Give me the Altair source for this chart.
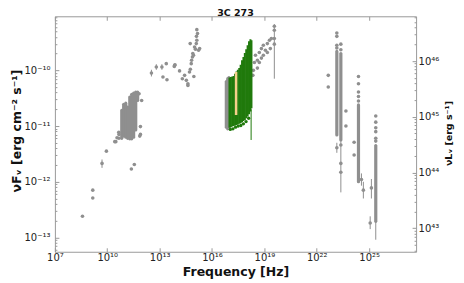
import math
import altair as alt
import pandas as pd

# ---------------- data (log10 values) ----------------
# grey scatter points: log10(nu/Hz), log10(nuFnu / erg cm^-2 s^-1)
grey_lognu = [8.58, 9.17, 9.17, 9.70, 9.95, 10.43, 10.49, 10.56, 10.67, 10.66, 10.67,
              11.38, 11.55, 11.86, 11.90, 11.90, 11.97, 11.82,
              12.53, 12.81, 13.13, 13.19, 13.38, 13.42, 13.84, 13.86, 13.88, 14.14, 14.30,
              14.43, 14.53, 14.62, 14.62, 14.71, 14.76, 14.81, 14.83, 14.88, 14.90, 14.94,
              14.96, 15.00, 14.75, 15.05, 15.10, 15.13, 15.11, 15.17, 15.13, 15.23, 15.29,
              18.34, 18.37, 18.43, 18.49, 18.60, 18.60, 18.71, 18.71, 18.83, 18.83, 18.94,
              18.94, 19.06, 19.17, 19.17, 19.29, 19.34, 19.40, 19.57, 19.57, 19.57, 19.57,
              22.66, 22.66, 23.15, 23.67, 23.67, 24.14, 24.14, 24.56, 24.67, 25.13, 25.06,
              23.15, 23.15, 23.15, 23.15, 23.38, 23.38, 23.38, 23.38, 23.38,
              24.39, 24.39, 24.39, 24.39, 24.39,
              25.38, 25.38, 25.38, 25.38, 25.38, 25.38]
grey_logF = [-12.62, -12.15, -12.29, -11.67, -11.45, -11.28, -11.28, -11.21, -11.15, -11.11, -11.22,
             -11.77, -11.69, -11.18, -11.01, -11.15, -10.54, -10.42,
             -10.05, -9.94, -9.94, -10.12, -9.88, -10.17, -9.93, -9.91, -9.90, -10.01, -10.15,
             -10.09, -10.18, -10.27, -10.24, -10.03, -9.98, -9.88, -9.82, -9.76, -9.70, -9.73,
             -10.11, -9.58, -9.52, -9.62, -9.52, -9.46, -9.39, -9.34, -9.27, -9.64, -9.61,
             -10.09, -10.00, -9.86, -9.73, -9.82, -9.96, -9.68, -9.86, -9.61, -9.78, -9.55,
             -9.73, -9.64, -9.52, -9.68, -9.46, -9.61, -9.43, -9.28, -9.21, -9.43, -9.53,
             -10.09, -10.30, -11.39, -10.73, -11.00, -11.29, -11.52, -11.96, -12.15, -12.11, -12.74,
             -9.33, -9.39, -9.55, -9.60, -9.53, -9.63, -11.34, -11.67, -11.83,
             -10.11, -10.24, -10.39, -10.47, -10.55,
             -10.82, -10.93, -11.03, -11.10, -11.22, -11.27]

# grey error bars: log10 nu, lower, upper
err_lognu = [9.70, 12.53, 12.81, 13.13, 19.57, 23.15, 23.38, 24.56, 24.67, 25.13, 25.06, 25.38]
err_lo = [-11.75, -10.11, -9.99, -9.99, -10.15, -11.48, -12.19, -12.07, -12.30, -12.30, -12.85, -13.04]
err_hi = [-11.60, -9.99, -9.89, -9.89, -9.17, -11.30, -11.25, -11.85, -12.00, -11.95, -12.62, -12.71]

# dense grey columns (many overlapping points): log10 nu, lower, upper
col_lognu = [10.83, 10.94, 11.06, 11.17, 11.29, 11.40, 11.51, 11.63, 11.74,
             16.82, 16.90, 16.97,
             23.15, 23.38, 24.39, 25.38]
col_lo = [-11.22, -11.18, -11.20, -11.22, -11.23, -11.23, -11.20, -11.07, -10.54,
          -11.02, -11.05, -11.03,
          -11.16, -11.25, -12.00, -12.71]
col_hi = [-10.72, -10.61, -10.59, -10.66, -10.48, -10.43, -10.41, -10.39, -10.39,
          -10.20, -10.15, -10.13,
          -9.66, -9.70, -10.62, -11.35]

# green X-ray band
green_lognu = [17.00, 17.08, 17.16, 17.24, 17.32, 17.40, 17.48, 17.56, 17.64,
               17.72, 17.80, 17.88, 17.96, 18.04, 18.12, 18.20, 18.26]
green_lo = [-11.03, -11.02, -11.01, -11.00, -10.99, -10.98, -10.97, -10.96, -10.95,
            -10.93, -10.91, -10.89, -10.86, -10.83, -10.79, -10.74, -10.68]
green_hi = [-10.13, -10.12, -10.11, -10.10, -10.06, -10.02, -9.99, -9.96, -9.90,
            -9.82, -9.76, -9.69, -9.62, -9.55, -9.48, -9.44, -9.46]
green_pt_lognu = [17.05, 17.20, 17.35, 17.50, 17.65, 17.80, 17.95, 18.10]
green_pt_logF = [-11.06, -11.05, -11.02, -11.00, -10.99, -10.96, -10.92, -10.86]
green_err_lognu = [18.24]
green_err_lo = [-11.25]
green_err_hi = [-10.70]

# orange band
orange_lognu = [17.38]
orange_lo = [-10.80]
orange_hi = [-10.03]

# axes
x_major_exp = [7, 10, 13, 16, 19, 22, 25]
y_major_exp = [-13, -12, -11, -10]
yr_major_exp = [43, 44, 45, 46]
L_OFFSET = 55.833  # log10(nuL / nuF)

LOG_NU_MIN, LOG_NU_MAX = 7.0, 27.69
LOG_F_MIN, LOG_F_MAX = -13.256, -9.03

# ---------------- build ----------------
W, H = 362, 236
FONT = "DejaVu Sans"
GREY = "#8f8f8f"
GREEN = "#207a0c"
ORANGE = "#f5d08a"
FRAME = "#9a9a9a"

p = lambda v: 10 ** v

df_grey = pd.DataFrame({"nu": [p(v) for v in grey_lognu], "F": [p(v) for v in grey_logF]})
df_err = pd.DataFrame({"nu": [p(v) for v in err_lognu], "lo": [p(v) for v in err_lo], "hi": [p(v) for v in err_hi]})
df_col = pd.DataFrame({"nu": [p(v) for v in col_lognu], "lo": [p(v) for v in col_lo], "hi": [p(v) for v in col_hi]})
df_green = pd.DataFrame({"nu": [p(v) for v in green_lognu], "lo": [p(v) for v in green_lo], "hi": [p(v) for v in green_hi]})
df_gpt = pd.DataFrame({"nu": [p(v) for v in green_pt_lognu], "F": [p(v) for v in green_pt_logF]})
df_gerr = pd.DataFrame({"nu": [p(v) for v in green_err_lognu], "lo": [p(v) for v in green_err_lo], "hi": [p(v) for v in green_err_hi]})
df_orange = pd.DataFrame({"nu": [p(v) for v in orange_lognu], "lo": [p(v) for v in orange_lo], "hi": [p(v) for v in orange_hi]})

xscale = alt.Scale(type="log", domain=[p(LOG_NU_MIN), p(LOG_NU_MAX)], nice=False)
yscale = alt.Scale(type="log", domain=[p(LOG_F_MIN), p(LOG_F_MAX)], nice=False)


def sup_label(offset=0.0):
    inner = "round(log(datum.value)/LN10" + (f" + {offset}" if offset else "") + ")"
    s = f"('' + {inner})"
    for a, b in [("-", "⁻"), ("0", "⁰"), ("1", "¹"), ("2", "²"), ("3", "³"), ("4", "⁴"),
                 ("5", "⁵"), ("6", "⁶"), ("7", "⁷"), ("8", "⁸"), ("9", "⁹")]:
        s = f"replace({s}, regexp('{a}', 'g'), '{b}')"
    return "'10' + " + s


x_major = [p(e) for e in x_major_exp]
y_major = [p(e) for e in y_major_exp]
yr_major = [p(e - L_OFFSET) for e in yr_major_exp]
y_minor = [m * p(k) for k in range(-14, -8) for m in range(2, 10)
           if LOG_F_MIN <= math.log10(m * p(k)) <= LOG_F_MAX]
yr_minor = [m * p(k - L_OFFSET) for k in range(42, 48) for m in range(2, 10)
            if LOG_F_MIN <= math.log10(m * p(k - L_OFFSET)) <= LOG_F_MAX]

common_lab = dict(ticks=False, tickSize=0, domain=False, grid=False, labelFont=FONT,
                  labelFontSize=10, labelColor="#222222", labelOverlap=False, labelFlush=False,
                  labelBound=False)

ax_x_lab = alt.Axis(orient="bottom", values=x_major, labelExpr=sup_label(), labelPadding=1,
                    labelBaseline="top",
                    title="Frequency [Hz]", titleFont=FONT, titleFontSize=12.5, titleFontWeight="bold",
                    titleColor="#111111", titleY=24, titleBaseline="alphabetic", **common_lab)
ax_y_lab = alt.Axis(orient="left", values=y_major, labelExpr=sup_label(), labelPadding=5,
                    title="νFᵥ [erg cm⁻² s⁻¹]", titleFont=FONT, titleFontSize=12.5,
                    titleFontWeight="bold", titleColor="#111111", titleAngle=270,
                    titleX=-34, titleY=114.5, titleAlign="center", titleBaseline="alphabetic",
                    **common_lab)
ax_yr_lab = alt.Axis(orient="right", values=yr_major, labelExpr=sup_label(L_OFFSET), labelPadding=2,
                     title="νLᵥ [erg s⁻¹]", titleFont=FONT, titleFontSize=9.5,
                     titleFontWeight="bold", titleColor="#111111", titleAngle=270,
                     titleX=35, titleY=117, titleAlign="center", titleBaseline="alphabetic",
                     **common_lab)


def tick_axis(orient, offset, values, size):
    return alt.Axis(orient=orient, offset=offset, values=values, labels=False, domain=False,
                    grid=False, ticks=True, tickSize=size, tickColor=FRAME, tickWidth=1, title=None)


ax_x_in_bottom = tick_axis("top", -H, x_major, 4)
ax_x_in_top = tick_axis("bottom", -H, x_major, 4)
ax_yl_major = tick_axis("right", -W, y_major, 4)
ax_yl_minor = tick_axis("right", -W, y_minor, 2)
ax_yr_major = tick_axis("left", -W, yr_major, 4)
ax_yr_minor = tick_axis("left", -W, yr_minor, 2)


def X(axis):
    return alt.X("nu:Q", scale=xscale, axis=axis)


def Y(field, axis):
    return alt.Y(f"{field}:Q", scale=yscale, axis=axis)


col_layer = alt.Chart(df_col).mark_rule(color=GREY, strokeWidth=3.2, strokeCap="round", clip=True).encode(
    x=X(ax_x_lab), y=Y("lo", ax_y_lab), y2="hi:Q")
err_layer = alt.Chart(df_err).mark_rule(color=GREY, strokeWidth=1, clip=True).encode(
    x=X(ax_x_in_bottom), y=Y("lo", ax_yr_lab), y2="hi:Q")
grey_layer = alt.Chart(df_grey).mark_circle(color=GREY, size=13, opacity=1, clip=True).encode(
    x=X(ax_x_in_top), y=Y("F", ax_yl_major))
green_layer = alt.Chart(df_green).mark_rule(color=GREEN, strokeWidth=2, clip=True).encode(
    x=X(None), y=Y("lo", ax_yl_minor), y2="hi:Q")
green_pt_layer = alt.Chart(df_gpt).mark_circle(color=GREEN, size=11, opacity=1, clip=True).encode(
    x=X(None), y=Y("F", ax_yr_major))
green_err_layer = alt.Chart(df_gerr).mark_rule(color=GREEN, strokeWidth=1, clip=True).encode(
    x=X(None), y=Y("lo", None), y2="hi:Q")
orange_layer = alt.Chart(df_orange).mark_rule(color=ORANGE, strokeWidth=2.5, clip=True).encode(
    x=X(None), y=Y("lo", ax_yr_minor), y2="hi:Q")

chart = alt.layer(col_layer, err_layer, grey_layer, green_layer, green_pt_layer,
                  green_err_layer, orange_layer).resolve_axis(
    x="independent", y="independent"
).properties(
    width=W, height=H,
    padding={"left": 47, "top": 8, "right": 40, "bottom": 29},
    autosize=alt.AutoSizeParams(type="none"),
    title=alt.Title("3C 273", font=FONT, fontSize=9.5, fontWeight="bold", color="#111111",
                    anchor="middle", offset=1, baseline="alphabetic", dy=11),
).configure_view(stroke=FRAME, strokeWidth=1)

chart.save("out.html", embed_options={"renderer": "svg", "actions": False})
